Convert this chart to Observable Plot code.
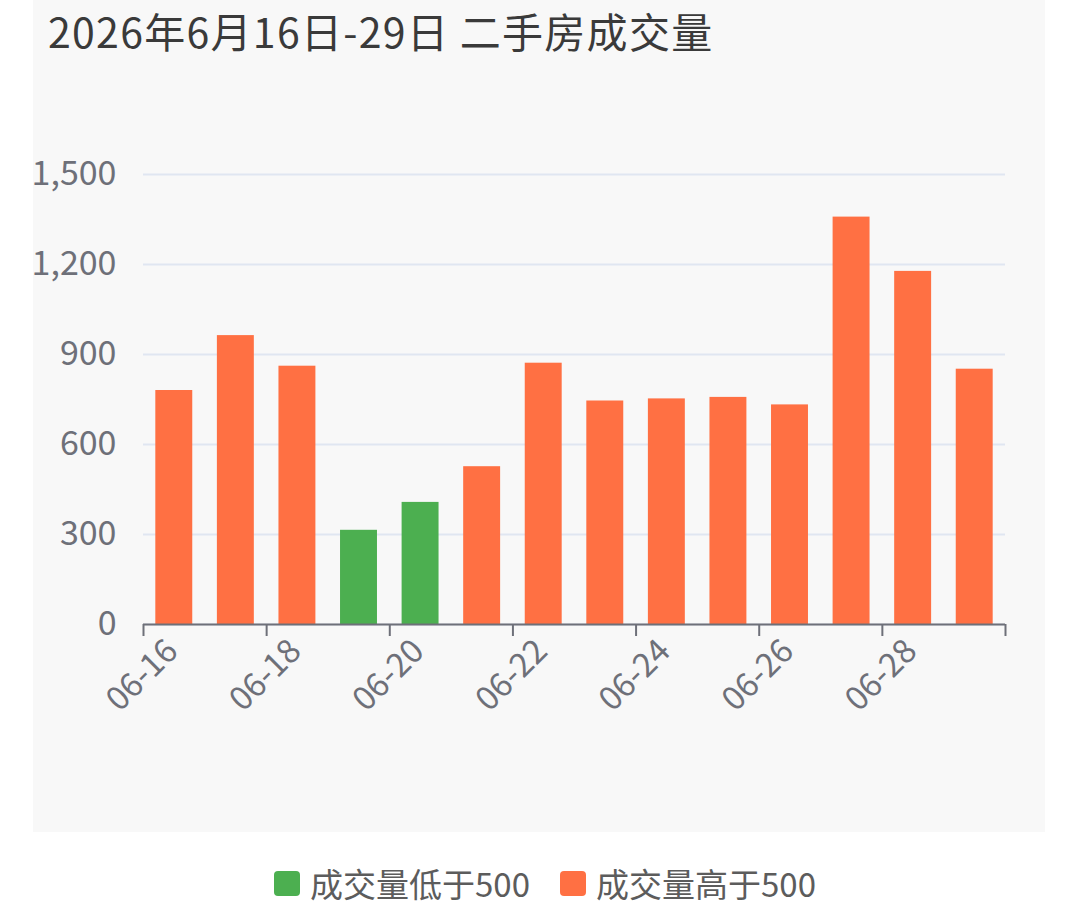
<!DOCTYPE html>
<html><head><meta charset="utf-8">
<script src="https://cdn.jsdelivr.net/npm/d3@7"></script>
<script src="https://cdn.jsdelivr.net/npm/@observablehq/plot@0.6"></script>
<style>
html,body{margin:0;padding:0;background:#fff;width:1080px;height:920px;overflow:hidden;font-family:"Noto Sans CJK SC","Noto Sans",sans-serif;}
#panel{position:absolute;left:33px;top:0;width:1012px;height:832px;background:#f8f8f8;}
#title{position:absolute;left:15px;top:4px;font-size:41px;line-height:52px;letter-spacing:1.3px;color:#3a3a3a;white-space:nowrap;}
#chart{position:absolute;left:0;top:80px;}
#legend{position:absolute;left:5px;top:863px;width:1080px;display:flex;justify-content:center;align-items:center;font-size:33px;line-height:40px;color:#5c5c5c;}
.item{display:flex;align-items:center;margin:0 15px;}
.sw{width:26px;height:25px;border-radius:4px;margin-right:10px;}
</style></head>
<body>
<div id="panel"><div id="title"></div><div id="chart"></div></div>
<div id="legend"></div>
<script>
const titleText = "2026年6月16日-29日 二手房成交量";
const dates = ["06-16","06-17","06-18","06-19","06-20","06-21","06-22","06-23","06-24","06-25","06-26","06-27","06-28","06-29"];
const values = [780, 963, 861, 314, 407, 526, 871, 745, 752, 757, 732, 1358, 1177, 851];
const threshold = 500;
const categories = ["成交量低于500", "成交量高于500"];
const colors = ["#4caf50", "#ff7043"];
const yTicks = [0, 300, 600, 900, 1200, 1500];
const labelDates = dates.filter((d, i) => i % 2 === 0);

document.getElementById("title").textContent = titleText;

const data = dates.map((d, i) => ({date: d, value: values[i], cat: values[i] < threshold ? categories[0] : categories[1]}));

const W = 1012, H = 752, ML = 110, MR = 40, MT = 94, MB = 208;
const step = (W - ML - MR) / dates.length;
const axisColor = "#6e7079";

const chart = Plot.plot({
  width: W, height: H,
  marginLeft: ML, marginRight: MR, marginTop: MT, marginBottom: MB,
  style: {background: "transparent", fontFamily: '"Noto Sans CJK SC", "Noto Sans", sans-serif', overflow: "visible"},
  x: {type: "band", domain: dates, paddingInner: 0.4, paddingOuter: 0.2, round: false},
  y: {domain: [0, 1500]},
  color: {domain: categories, range: colors},
  marks: [
    Plot.gridY(yTicks, {stroke: "#e0e6f1", strokeOpacity: 1, strokeWidth: 2}),
    Plot.axisY(yTicks, {tickSize: 0, tickPadding: 27, tickFormat: d3.format(","), fontSize: 34, fill: axisColor, label: null}),
    Plot.barY(data, {x: "date", y: "value", fill: "cat"}),
    Plot.ruleY([0], {stroke: axisColor, strokeWidth: 2}),
    Plot.axisX(labelDates, {tickSize: 12, dx: -step / 2, tickFormat: () => "", stroke: axisColor, strokeWidth: 2, label: null}),
    Plot.axisX([dates[dates.length - 1]], {tickSize: 12, dx: step / 2, tickFormat: () => "", stroke: axisColor, strokeWidth: 2, label: null}),
    Plot.text(labelDates, {x: d => d, frameAnchor: "bottom", dy: 21, dx: -2, rotate: -45, textAnchor: "end", lineAnchor: "middle", fontSize: 33, fill: axisColor})
  ]
});
document.getElementById("chart").appendChild(chart);

const legend = document.getElementById("legend");
categories.forEach((c, i) => {
  const item = document.createElement("div");
  item.className = "item";
  const sw = document.createElement("div");
  sw.className = "sw";
  sw.style.background = colors[i];
  const t = document.createElement("span");
  t.textContent = c;
  item.appendChild(sw);
  item.appendChild(t);
  legend.appendChild(item);
});
</script>
</body></html>
